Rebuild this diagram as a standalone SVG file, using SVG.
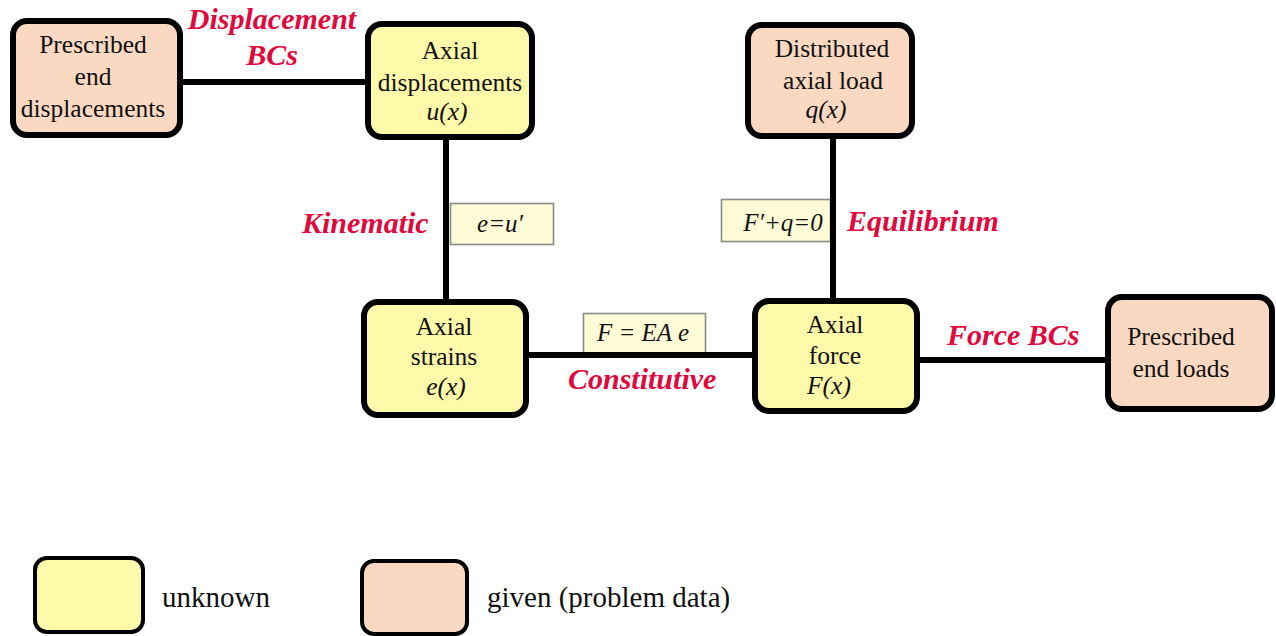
<svg xmlns="http://www.w3.org/2000/svg" width="1276" height="636" viewBox="0 0 1276 636">
  <style>
    .node { stroke: #000; stroke-width: 6; }
    .unknown { fill: #FFF9AA; }
    .given { fill: #FBD8C2; }
    .t { font-family: "Liberation Serif", "Times New Roman", serif; font-size: 25.5px; fill: #111; text-anchor: middle; }
    .m { font-style: italic; }
    .rel { font-family: "Liberation Serif", "Times New Roman", serif; font-size: 30px; font-weight: bold; font-style: italic; fill: #E0083C; }
    .eq { fill: #FFFBD6; stroke: #8a8a8a; stroke-width: 1.6; }
    .eqt { font-family: "Liberation Serif", "Times New Roman", serif; font-size: 25px; font-style: italic; fill: #111; text-anchor: middle; }
    .wire { stroke: #000; stroke-width: 6; fill: none; }
    .leg { stroke: #000; stroke-width: 4; }
    .legt { font-family: "Liberation Serif", "Times New Roman", serif; font-size: 29px; fill: #111; }
  </style>

  <!-- equation tags beside the connectors -->
  <g id="equations">
    <rect class="eq" x="450.5" y="203.5" width="103" height="41"/>
    <text class="eqt" x="500" y="232">e=u′</text>
    <rect class="eq" x="721.5" y="199.5" width="109" height="42"/>
    <text class="eqt" x="783" y="231">F′+q=0</text>
    <rect class="eq" x="583.5" y="313.5" width="122" height="40"/>
    <text class="eqt" x="643" y="341">F = EA e</text>
  </g>

  <!-- connectors -->
  <g id="connectors">
    <line class="wire" x1="180" y1="82" x2="368" y2="82"/>
    <line class="wire" x1="446" y1="137" x2="446" y2="302"/>
    <line class="wire" x1="833" y1="136" x2="833" y2="301"/>
    <line class="wire" x1="526" y1="355" x2="755" y2="355"/>
    <line class="wire" x1="917" y1="360" x2="1108" y2="360"/>
  </g>

  <!-- relation labels -->
  <g id="relations">
    <text class="rel" x="272" y="29" text-anchor="middle">Displacement</text>
    <text class="rel" x="272" y="65" text-anchor="middle">BCs</text>
    <text class="rel" x="302" y="233">Kinematic</text>
    <text class="rel" x="847" y="231">Equilibrium</text>
    <text class="rel" x="568" y="389">Constitutive</text>
    <text class="rel" x="947" y="345">Force BCs</text>
  </g>

  <g id="prescribed-displacements">
    <rect class="node given" x="13" y="21" width="167" height="114" rx="14"/>
    <text class="t" x="93" y="53">Prescribed</text>
    <text class="t" x="93" y="85">end</text>
    <text class="t" x="93" y="117">displacements</text>
  </g>

  <g id="axial-displacements">
    <rect class="node unknown" x="368" y="24" width="164" height="113" rx="14"/>
    <text class="t" x="450" y="59">Axial</text>
    <text class="t" x="450" y="91">displacements</text>
    <text class="t m" x="447" y="120">u(x)</text>
  </g>

  <g id="distributed-load">
    <rect class="node given" x="748" y="25" width="164" height="111" rx="14"/>
    <text class="t" x="832" y="57">Distributed</text>
    <text class="t" x="833" y="89">axial load</text>
    <text class="t m" x="826" y="118">q(x)</text>
  </g>

  <g id="axial-strains">
    <rect class="node unknown" x="364" y="302" width="162" height="113" rx="14"/>
    <text class="t" x="444" y="335">Axial</text>
    <text class="t" x="444" y="365">strains</text>
    <text class="t m" x="446" y="395">e(x)</text>
  </g>

  <g id="axial-force">
    <rect class="node unknown" x="755" y="301" width="162" height="110" rx="14"/>
    <text class="t" x="835" y="333">Axial</text>
    <text class="t" x="835" y="364">force</text>
    <text class="t m" x="829" y="394">F(x)</text>
  </g>

  <g id="prescribed-loads">
    <rect class="node given" x="1108" y="297" width="164" height="112" rx="14"/>
    <text class="t" x="1181" y="345">Prescribed</text>
    <text class="t" x="1181" y="377">end loads</text>
  </g>

  <!-- legend -->
  <g id="legend">
    <rect class="leg unknown" x="35" y="558" width="108" height="74" rx="12"/>
    <text class="legt" x="162" y="607">unknown</text>
    <rect class="leg given" x="362" y="561" width="105" height="73" rx="12"/>
    <text class="legt" x="487" y="607">given (problem data)</text>
  </g>
</svg>
